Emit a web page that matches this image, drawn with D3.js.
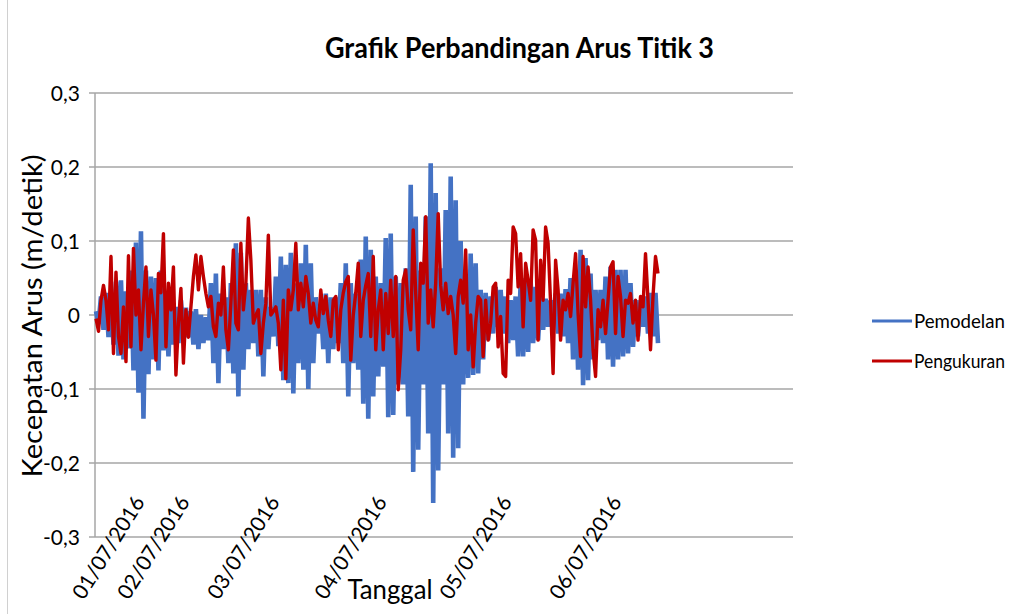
<!DOCTYPE html>
<html><head><meta charset="utf-8">
<script src="https://cdn.jsdelivr.net/npm/d3@7"></script>
<style>body{margin:0;background:#fff} text{font-family:Lato,"Open Sans",sans-serif;fill:#000}</style>
</head><body>
<svg id="c" width="1020" height="614"></svg>
<script>
// Pemodelan (model) – values in m/s
const pemodelan = [
0.005,-0.012, 0.025,-0.02, 0.03,-0.03, 0.03,-0.04, 0.045,-0.055, 0.047,-0.06, 0.032,-0.045, 0.06,-0.075,
0.098,-0.105, 0.113,-0.14, 0.06,-0.08, 0.052,-0.06, 0.05,-0.075, 0.06,-0.048, 0.03,-0.056, 0.02,-0.04,
0.011,-0.038, 0.02,-0.03, 0.01,-0.03, 0.005,-0.04, 0.008,-0.046, 0.0,-0.038, -0.003,-0.034, 0.043,-0.065,
0.056,-0.092, 0.029,-0.046, 0.024,-0.065, 0.043,-0.079, 0.097,-0.11, 0.084,-0.074, 0.043,-0.046, 0.034,-0.038,
0.034,-0.056, 0.034,-0.083, 0.024,-0.046, 0.011,-0.029, 0.052,-0.042, 0.079,-0.088, 0.068,-0.092, 0.084,-0.106,
0.043,-0.065, 0.07,-0.074, 0.095,-0.1, 0.07,-0.065, 0.024,-0.025, 0.015,-0.046, 0.029,-0.065, 0.024,-0.046,
0.024,-0.038, 0.043,-0.065, 0.07,-0.11, 0.043,-0.065, 0.029,-0.074, 0.075,-0.12, 0.106,-0.14, 0.088,-0.11,
0.052,-0.083, 0.043,-0.07, 0.104,-0.138, 0.11,-0.135, 0.052,-0.094, 0.043,-0.094, 0.063,-0.137, 0.176,-0.212,
0.133,-0.182, 0.06,-0.094, 0.133,-0.16, 0.205,-0.254, 0.165,-0.21, 0.063,-0.094, 0.142,-0.16, 0.187,-0.193,
0.155,-0.18, 0.1,-0.094, 0.052,-0.085, 0.083,-0.081, 0.07,-0.079, 0.034,-0.06, 0.03,-0.034, 0.025,-0.025,
0.038,-0.016, 0.034,-0.025, 0.025,-0.038, 0.02,-0.034, 0.025,-0.056, 0.043,-0.056, 0.05,-0.05, 0.047,-0.038,
0.038,-0.034, 0.029,-0.02, 0.022,-0.016, 0.02,-0.011, 0.029,-0.025, 0.029,-0.029, 0.035,-0.038, 0.05,-0.06,
0.056,-0.074, 0.088,-0.095, 0.077,-0.088, 0.056,-0.06, 0.034,-0.034, 0.034,-0.038, 0.052,-0.06, 0.065,-0.07,
0.061,-0.06, 0.061,-0.056, 0.061,-0.052, 0.043,-0.043, 0.02,-0.029, 0.02,-0.016, 0.025,-0.025, 0.03,-0.029,
0.03,-0.038
];
// Pengukuran (measurement) – values in m/s
const pengukuran = [
-0.005,-0.022,0.02,0.04,0.02,-0.02,0.079,-0.052,0.058,-0.029,-0.052,0.011,-0.063,0.08,-0.043,0.09,
0.0,0.034,-0.047,0.016,0.065,-0.029,0.034,0.0,-0.061,0.056,0.03,0.11,-0.043,0.043,0.007,0.065,
-0.081,-0.01,0.036,-0.065,0.007,-0.03,0.011,0.052,0.081,0.034,0.079,0.052,0.029,0.011,0.025,-0.016,
-0.029,0.016,0.0,0.065,-0.02,-0.047,0.016,0.088,-0.011,-0.02,0.097,0.007,0.043,0.131,0.074,-0.011,
0.0,0.007,-0.052,-0.011,0.016,0.108,0.0,0.005,0.011,-0.011,-0.074,0.02,-0.086,0.034,0.007,0.034,
0.097,0.007,0.043,0.011,0.052,0.029,-0.011,0.016,-0.007,-0.016,0.034,0.002,0.025,-0.007,-0.029,0.02,
0.025,-0.047,0.007,0.03,0.045,0.052,-0.061,0.0,0.03,0.07,-0.029,0.02,0.04,0.056,-0.029,0.079,
-0.047,0.007,0.034,-0.047,0.029,-0.025,0.047,-0.029,0.052,-0.101,-0.047,0.047,0.061,0.007,-0.02,0.115,
0.029,-0.047,0.07,0.043,0.133,-0.011,0.034,-0.016,0.043,0.137,0.04,0.007,0.043,0.002,0.025,0.0,
-0.052,0.025,0.047,0.016,0.088,-0.047,0.0,-0.07,-0.011,0.025,0.02,-0.056,0.02,-0.034,-0.011,0.038,
0.043,-0.043,-0.002,-0.079,-0.083,0.047,0.029,0.119,0.11,0.038,0.083,-0.016,0.07,0.047,0.02,0.115,
0.101,-0.034,0.074,0.02,0.119,0.097,0.016,-0.079,0.074,0.034,-0.034,0.02,0.007,0.029,-0.002,0.043,
0.083,0.002,-0.056,0.079,0.011,0.065,0.02,-0.047,-0.083,0.007,-0.016,0.02,-0.025,0.02,0.065,0.072,
-0.025,0.052,0.025,-0.029,0.02,0.016,0.029,-0.011,0.02,-0.034,0.025,0.011,0.083,0.02,-0.047,0.025,
0.079,0.056
];
const dateLabels = ["01/07/2016","02/07/2016","03/07/2016","04/07/2016","05/07/2016","06/07/2016"];
const dateIndex = [18, 36, 72, 115, 165, 209];
const yTicks = [-0.3,-0.2,-0.1,0,0.1,0.2,0.3];
const seriesNames = ["Pemodelan","Pengukuran"];
const seriesColors = ["#4472C4","#C00000"];

const svg = d3.select("#c");
const N = Math.max(pemodelan.length, pengukuran.length);
const x = d3.scaleLinear().domain([0, N - 1]).range([96, 658]);
const y = d3.scaleLinear().domain([-0.3, 0.3]).range([537, 93]);

// left border of chart frame
svg.append("line").attr("x1",7.5).attr("x2",7.5).attr("y1",0).attr("y2",614)
  .attr("stroke","#d0d0d0").attr("stroke-width",1);

// gridlines
svg.append("g").selectAll("line").data(yTicks).join("line")
  .attr("x1",89).attr("x2",793).attr("y1",d=>y(d)).attr("y2",d=>y(d))
  .attr("stroke","#a6a6a6").attr("stroke-width",1.5);
// y axis line
svg.append("line").attr("x1",95).attr("x2",95).attr("y1",y(0.3)).attr("y2",y(-0.3))
  .attr("stroke","#a6a6a6").attr("stroke-width",1.5);

// y tick labels
const fmt = d => d === 0 ? "0" : d3.format(".1f")(d).replace(".", ",").replace("−","-");
svg.append("g").selectAll("text").data(yTicks).join("text")
  .attr("x",80).attr("y",d=>y(d)).attr("dy","0.36em").attr("text-anchor","end")
  .attr("font-size",21).text(fmt);

// series
const line = d3.line().x((d,i)=>x(i)).y(d=>y(d));
svg.append("path").datum(pemodelan).attr("d",line).attr("fill","none")
  .attr("stroke",seriesColors[0]).attr("stroke-width",4.6).attr("stroke-linejoin","bevel");
svg.append("path").datum(pengukuran).attr("d",line).attr("fill","none")
  .attr("stroke",seriesColors[1]).attr("stroke-width",3.4).attr("stroke-linejoin","round");

// x tick labels (rotated)
svg.append("g").selectAll("text").data(dateLabels).join("text")
  .attr("transform",(d,i)=>`translate(${x(dateIndex[i])+4.5},502) rotate(-58)`)
  .attr("text-anchor","end").attr("font-size",21).text(d=>d);

// title
svg.append("text").attr("x",519.5).attr("y",58).attr("text-anchor","middle")
  .attr("font-size",29).attr("font-weight","bold")
  .attr("textLength",389).attr("lengthAdjust","spacingAndGlyphs")
  .text("Grafik Perbandingan Arus Titik 3");

// axis titles
svg.append("text").attr("transform","translate(42,316) rotate(-90)").attr("text-anchor","middle")
  .attr("font-size",27).attr("textLength",323).attr("lengthAdjust","spacingAndGlyphs")
  .text("Kecepatan Arus (m/detik)");
svg.append("text").attr("x",390).attr("y",599).attr("text-anchor","middle")
  .attr("font-size",27).attr("textLength",85).attr("lengthAdjust","spacingAndGlyphs").text("Tanggal");

// legend
const lg = svg.append("g").selectAll("g").data(seriesNames).join("g")
  .attr("transform",(d,i)=>`translate(872,${321 + i*40})`);
lg.append("line").attr("x1",0).attr("x2",40).attr("stroke",(d,i)=>seriesColors[i]).attr("stroke-width",3);
lg.append("text").attr("x",42).attr("dy","0.35em").attr("font-size",19.5).attr("textLength",91).attr("lengthAdjust","spacingAndGlyphs").text(d=>d);
</script>
</body></html>
